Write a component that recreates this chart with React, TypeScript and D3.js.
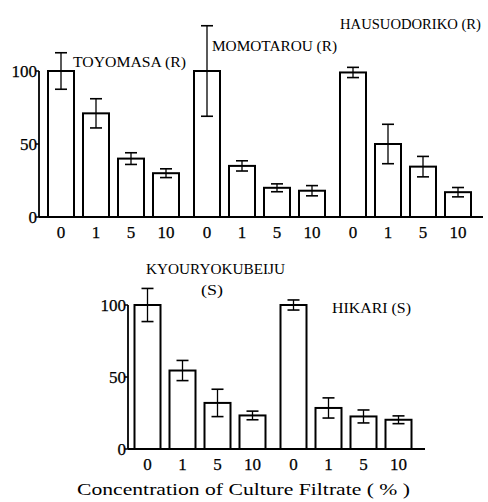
import React from "react";
import * as d3 from "d3";

const concentrations = ["0", "1", "5", "10"];
const yTicks = [0, 50, 100];

const topCultivars = ["TOYOMASA (R)", "MOMOTAROU (R)", "HAUSUODORIKO (R)"];
const topMeans = [
  [100, 71, 40, 30],
  [100, 35, 20, 18],
  [99, 50, 34.5, 17],
];
const topErrors = [
  [12.5, 10, 4, 3],
  [31, 3.5, 2.7, 3.5],
  [3.5, 13.5, 7, 3.2],
];

const bottomCultivars = ["KYOURYOKUBEIJU (S)", "HIKARI (S)"];
const bottomMeans = [
  [100, 54.5, 32, 23.3],
  [100, 28.5, 22.6, 20.3],
];
const bottomErrors = [
  [11.5, 7, 9.5, 3],
  [3.5, 7, 4.5, 2.7],
];

const xTitle = "Concentration of Culture Filtrate ( % )";

const FONT = '"Liberation Serif"';
const GROUP_STEP = 146;
const GROUP_GAP = 6;

const textStyle = (size: number): React.CSSProperties => ({
  fontFamily: FONT,
  fontSize: size,
});

type Label = { lines: { text: string; x: number; y: number; len: number; anchor?: string }[] };

function Panel(props: {
  groups: string[];
  means: number[][];
  errors: number[][];
  start: number;
  axisX: number;
  axisEnd: number;
  yZero: number;
  yHundred: number;
  labels: Label[];
}) {
  const { groups, means, errors, start, axisX, axisEnd, yZero, yHundred, labels } = props;
  const n = groups.length;
  const outer = d3
    .scaleBand<string>()
    .domain(groups)
    .range([start, start + n * GROUP_STEP - GROUP_GAP])
    .paddingInner(GROUP_GAP / GROUP_STEP)
    .paddingOuter(0);
  const inner = d3
    .scaleBand<string>()
    .domain(concentrations)
    .range([0, outer.bandwidth()])
    .paddingInner(9 / 35)
    .paddingOuter(4.5 / 35);
  const y = d3.scaleLinear().domain([0, 100]).range([yZero, yHundred]);
  const bw = inner.bandwidth();
  const capW = 12;

  return (
    <g>
      <line x1={axisX} x2={axisX} y1={y(0)} y2={y(100)} stroke="#000" strokeWidth={1.8} />
      {yTicks.map((t) => (
        <g key={t}>
          <line x1={axisX - 3} x2={axisX} y1={y(t)} y2={y(t)} stroke="#000" strokeWidth={1.5} />
          <text
            x={axisX - 2}
            y={y(t) + 6}
            textAnchor="end"
            style={textStyle(17)}
            fill="#000"
            stroke="#000"
            strokeWidth={0.25}
          >
            {t}
          </text>
        </g>
      ))}
      <line x1={axisX} x2={axisEnd} y1={y(0)} y2={y(0)} stroke="#000" strokeWidth={1.8} />
      {groups.map((g, gi) => {
        const gx = outer(g)!;
        return (
          <g key={g}>
            {concentrations.map((c, ci) => {
              const x = gx + inner(c)!;
              const v = means[gi][ci];
              const e = errors[gi][ci];
              const cx = x + bw / 2;
              return (
                <g key={c}>
                  <rect
                    x={x}
                    y={y(v)}
                    width={bw}
                    height={y(0) - y(v)}
                    fill="#fff"
                    stroke="#000"
                    strokeWidth={2}
                  />
                  <line x1={cx} x2={cx} y1={y(v + e)} y2={y(v - e)} stroke="#000" strokeWidth={1.3} />
                  <line
                    x1={cx - capW / 2}
                    x2={cx + capW / 2}
                    y1={y(v + e)}
                    y2={y(v + e)}
                    stroke="#000"
                    strokeWidth={1.6}
                  />
                  <line
                    x1={cx - capW / 2}
                    x2={cx + capW / 2}
                    y1={y(v - e)}
                    y2={y(v - e)}
                    stroke="#000"
                    strokeWidth={1.6}
                  />
                  <text
                    x={cx}
                    y={y(0) + 21}
                    textAnchor="middle"
                    style={textStyle(17)}
                    fill="#000"
                    stroke="#000"
                    strokeWidth={0.25}
                  >
                    {c}
                  </text>
                </g>
              );
            })}
          </g>
        );
      })}
      {labels.map((l, li) =>
        l.lines.map((ln, k) => (
          <text
            key={li + "-" + k}
            x={ln.x}
            y={ln.y}
            textAnchor={ln.anchor || "start"}
            style={textStyle(15.5)}
            fill="#000"
            textLength={ln.len}
            lengthAdjust="spacingAndGlyphs"
          >
            {ln.text}
          </text>
        ))
      )}
    </g>
  );
}

export default function App() {
  const topLabels: Label[] = [
    { lines: [{ text: topCultivars[0], x: 73, y: 67, len: 113 }] },
    { lines: [{ text: topCultivars[1], x: 212, y: 50.5, len: 125 }] },
    { lines: [{ text: topCultivars[2], x: 340, y: 28.5, len: 141 }] },
  ];
  const kParts = bottomCultivars[0].split(" ");
  const bottomLabels: Label[] = [
    {
      lines: [
        { text: kParts[0], x: 146, y: 273.5, len: 139 },
        { text: kParts[1], x: 212, y: 294.5, len: 22, anchor: "middle" },
      ],
    },
    { lines: [{ text: bottomCultivars[1], x: 332, y: 312.5, len: 79 }] },
  ];
  return (
    <svg
      width={488}
      height={502}
      style={{ position: "absolute", left: 0, top: 0, background: "#fff", fontFamily: FONT }}
    >
      <rect x={0} y={0} width={488} height={502} fill="#fff" />
      <Panel
        groups={topCultivars}
        means={topMeans}
        errors={topErrors}
        start={43.5}
        axisX={39}
        axisEnd={483}
        yZero={217}
        yHundred={71}
        labels={topLabels}
      />
      <Panel
        groups={bottomCultivars}
        means={bottomMeans}
        errors={bottomErrors}
        start={130}
        axisX={128}
        axisEnd={425}
        yZero={449}
        yHundred={305}
        labels={bottomLabels}
      />
      <text
        x={77}
        y={495}
        style={textStyle(17)}
        fill="#000"
        textLength={333}
        lengthAdjust="spacingAndGlyphs"
      >
        {xTitle}
      </text>
    </svg>
  );
}
